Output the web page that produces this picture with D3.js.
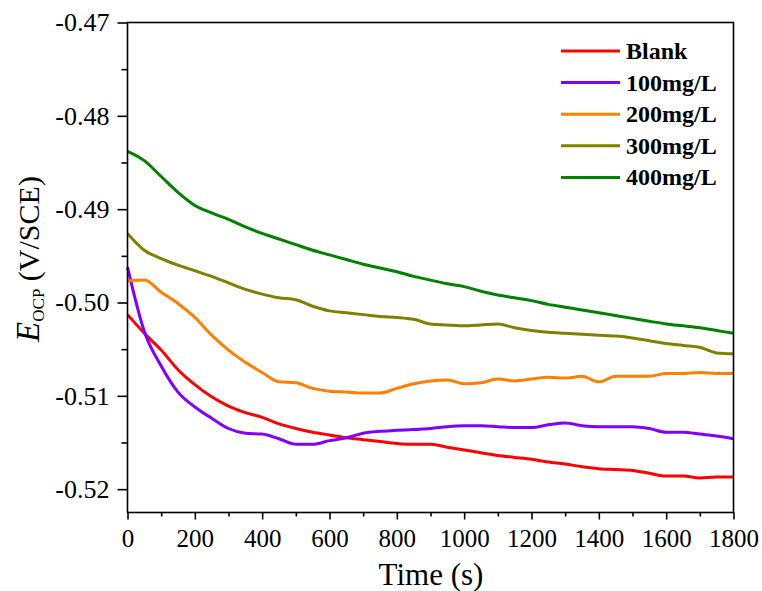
<!DOCTYPE html>
<html>
<head>
<meta charset="utf-8">
<script src="https://cdn.jsdelivr.net/npm/d3@7"></script>
<style>
  html, body { margin: 0; padding: 0; background: #fff; }
  svg { display: block; }
  text { font-family: "Liberation Serif", "Times New Roman", serif; fill: #000; }
</style>
</head>
<body>
<svg id="chart" width="762" height="591"></svg>
<script>
// ---- data ----
const times = [0,50,100,150,200,250,300,350,400,450,500,550,600,650,700,750,800,850,900,950,1000,1050,1100,1150,1200,1250,1300,1350,1400,1450,1500,1550,1600,1650,1700,1750,1800];

const seriesNames = ["Blank", "100mg/L", "200mg/L", "300mg/L", "400mg/L"];
const seriesColors = ["#ff0000", "#8000ff", "#ff8000", "#808000", "#008000"];

const blank = [-0.5013,-0.5033,-0.5051,-0.5072,-0.5088,-0.5101,-0.5111,-0.5118,-0.5123,-0.5130,-0.5135,-0.5139,-0.5142,-0.5145,-0.5147,-0.5149,-0.5151,-0.5152,-0.5152,-0.5155,-0.5158,-0.5161,-0.5164,-0.5166,-0.5168,-0.5171,-0.5173,-0.5176,-0.5178,-0.5179,-0.5180,-0.5183,-0.5186,-0.5186,-0.5188,-0.5187,-0.5187];
const c100 = [-0.4962,-0.5031,-0.5068,-0.5096,-0.5112,-0.5124,-0.5135,-0.5140,-0.5141,-0.5146,-0.5152,-0.5152,-0.5148,-0.5145,-0.5140,-0.5138,-0.5137,-0.5136,-0.5135,-0.5133,-0.5132,-0.5132,-0.5133,-0.5134,-0.5134,-0.5131,-0.5129,-0.5132,-0.5133,-0.5133,-0.5133,-0.5135,-0.5139,-0.5139,-0.5141,-0.5143,-0.5146];
const c200 = [-0.4977,-0.4976,-0.4989,-0.5001,-0.5016,-0.5035,-0.5051,-0.5064,-0.5075,-0.5085,-0.5086,-0.5092,-0.5095,-0.5096,-0.5097,-0.5097,-0.5092,-0.5087,-0.5084,-0.5083,-0.5087,-0.5086,-0.5082,-0.5084,-0.5082,-0.5080,-0.5081,-0.5079,-0.5085,-0.5079,-0.5079,-0.5079,-0.5076,-0.5076,-0.5075,-0.5076,-0.5076];
const c300 = [-0.4926,-0.4944,-0.4953,-0.4960,-0.4966,-0.4972,-0.4979,-0.4986,-0.4991,-0.4995,-0.4997,-0.5004,-0.5009,-0.5011,-0.5013,-0.5015,-0.5016,-0.5018,-0.5023,-0.5024,-0.5025,-0.5024,-0.5023,-0.5027,-0.5030,-0.5032,-0.5033,-0.5034,-0.5035,-0.5036,-0.5038,-0.5041,-0.5044,-0.5046,-0.5048,-0.5054,-0.5055];
const c400 = [-0.4838,-0.4848,-0.4865,-0.4882,-0.4896,-0.4904,-0.4911,-0.4919,-0.4926,-0.4932,-0.4938,-0.4944,-0.4949,-0.4954,-0.4959,-0.4963,-0.4967,-0.4972,-0.4976,-0.4980,-0.4983,-0.4988,-0.4992,-0.4995,-0.4998,-0.5002,-0.5005,-0.5008,-0.5011,-0.5014,-0.5017,-0.5020,-0.5023,-0.5025,-0.5027,-0.5030,-0.5033];

const xTicks = [0,200,400,600,800,1000,1200,1400,1600,1800];
const xMinorTicks = [100,300,500,700,900,1100,1300,1500,1700];
const yTicks = [-0.47,-0.48,-0.49,-0.50,-0.51,-0.52];
const yMinorTicks = [-0.475,-0.485,-0.495,-0.505,-0.515];

// ---- layout ----
const mLeft = 127.5, mTop = 22.5, mRight = 733.5, mBottom = 512.5;
const svg = d3.select("#chart");

const x = d3.scaleLinear().domain([0, 1800]).range([mLeft, mRight]);
const y = d3.scaleLinear().domain([-0.5225, -0.47]).range([mBottom, mTop]);

const allSeries = [blank, c100, c200, c300, c400];

// lines
const line = d3.line().curve(d3.curveMonotoneX).x(d => x(d[0])).y(d => y(d[1]));
allSeries.forEach((vals, i) => {
  svg.append("path")
    .datum(times.map((t, k) => [t, vals[k]]))
    .attr("fill", "none")
    .attr("stroke", seriesColors[i])
    .attr("stroke-width", 3)
    .attr("stroke-linejoin", "round")
    .attr("d", line);
});

// frame
svg.append("rect")
  .attr("x", mLeft).attr("y", mTop)
  .attr("width", mRight - mLeft).attr("height", mBottom - mTop)
  .attr("fill", "none").attr("stroke", "#000").attr("stroke-width", 1.6);

// axes
const fmtY = d => d3.format(".2f")(d).replace("\u2212", "-");
const xAxis = d3.axisBottom(x).tickValues(xTicks).tickSize(7).tickPadding(10).tickFormat(d3.format("d"));
const xMinor = d3.axisBottom(x).tickValues(xMinorTicks).tickSize(4).tickFormat("");
const yAxis = d3.axisLeft(y).tickValues(yTicks).tickSize(10).tickPadding(8).tickFormat(fmtY);
const yMinor = d3.axisLeft(y).tickValues(yMinorTicks).tickSize(6).tickFormat("");

function style(size) {
  return g => {
    g.select(".domain").remove();
    g.selectAll("line").attr("stroke", "#000").attr("stroke-width", 1.6);
    g.selectAll("text").style("font-family", "'Liberation Serif', serif").style("font-size", size + "px").attr("fill", "#000");
  };
}
svg.append("g").attr("transform", `translate(0,${mBottom})`).call(xAxis).call(style(25));
svg.append("g").attr("transform", `translate(0,${mBottom})`).call(xMinor).call(style(25));
svg.append("g").attr("transform", `translate(${mLeft},0)`).call(yAxis).call(style(26));
svg.append("g").attr("transform", `translate(${mLeft},0)`).call(yMinor).call(style(26));

// axis titles
svg.append("text")
  .attr("x", 431).attr("y", 585)
  .attr("text-anchor", "middle")
  .style("font-size", "31px")
  .text("Time (s)");

const yt = svg.append("text")
  .attr("transform", `translate(39,259) rotate(-90)`)
  .attr("text-anchor", "middle")
  .style("font-size", "30px");
yt.append("tspan").style("font-style", "italic").style("font-size", "33px").text("E");
yt.append("tspan").attr("dy", 5).style("font-size", "17px").text("OCP");
yt.append("tspan").attr("dy", -5).text(" (V/SCE)");

// legend
const lg = svg.append("g");
seriesNames.forEach((name, i) => {
  const yy = 51 + i * 31.6;
  lg.append("line")
    .attr("x1", 561).attr("x2", 620).attr("y1", yy).attr("y2", yy)
    .attr("stroke", seriesColors[i]).attr("stroke-width", 3);
  lg.append("text")
    .attr("x", 626).attr("y", yy + 8)
    .style("font-size", "24px").style("font-weight", "bold")
    .text(name);
});
</script>
</body>
</html>
